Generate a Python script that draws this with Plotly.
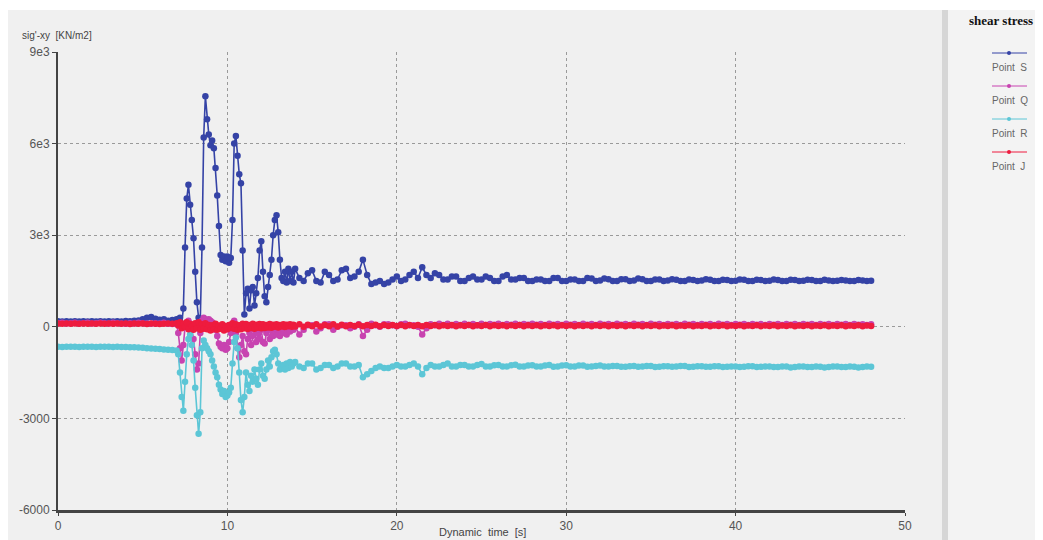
import numpy as np
import plotly.graph_objects as go

# ---- time grid (s): 0.25 s before and after the strong shaking, 0.1 s during it
T = np.round(np.concatenate([
    0.25 * np.arange(28),            # 0.00 .. 6.75 (28)
    7.0 + 0.1 * np.arange(70),       # 7.0 .. 13.9  (70)
    14.0 + 0.25 * np.arange(137),    # 14.00 .. 48.00 (137)
]), 2)

# ---- shear stress sig'-xy [kN/m2]
point_S = [
    180, 175, 180, 170, 185, 175, 180, 170, 180, 175, 185, 170, 180, 175,
    185, 175, 190, 180, 200, 210, 250, 300, 320, 260, 230, 250, 200, 220,
    # 7.0 .. 13.9
    250, 200, 300, 100, 600, 2600, 4200, 4650, 4000, 3500,
    2900, 1800, 800, 300, 250, 2600, 6200, 7550, 6800, 6300,
    5950, 6100, 5850, 5200, 4300, 3300, 2350, 2200, 2300, 2150,
    2300, 2100, 2250, 3500, 6000, 6250, 5600, 5000, 4700, 2500,
    400, 1100, 1250, 600, 1200, 1300, 700, 1100, 1600, 2500,
    2800, 1800, 1000, 800, 1300, 1700, 2200, 3000, 3500, 3650,
    3100, 2200, 1600, 1500, 1800, 1450, 1900, 1500, 1800, 1450,
    # 14.0 .. 48.0
    1900, 1600, 1500, 1750, 1850, 1500, 1450, 1800,
    1700, 1500, 1550, 1850, 1900, 1600, 1650, 1800,
    2200, 1700, 1400, 1450, 1500, 1400, 1450, 1550,
    1650, 1500, 1550, 1700, 1800, 1600, 1950, 1700,
    1600, 1750, 1700, 1550, 1550, 1650, 1650, 1500,
    1500, 1600, 1650, 1550, 1550, 1650, 1600, 1500,
    1500, 1650, 1700, 1550, 1550, 1600, 1600, 1500,
    1500, 1550, 1550, 1500, 1500, 1600, 1600, 1500,
    1500, 1550, 1550, 1500, 1500, 1600, 1580, 1500,
    1520, 1580, 1560, 1500, 1500, 1560, 1560, 1500,
    1520, 1580, 1560, 1500, 1500, 1550, 1550, 1500,
    1520, 1560, 1540, 1500, 1500, 1550, 1530, 1500,
    1520, 1560, 1540, 1500, 1500, 1540, 1530, 1500,
    1510, 1550, 1540, 1500, 1500, 1540, 1530, 1500,
    1510, 1550, 1530, 1500, 1500, 1540, 1530, 1500,
    1510, 1540, 1530, 1500, 1500, 1540, 1520, 1500,
    1510, 1530, 1520, 1500, 1500, 1530, 1520, 1500,
    1510,
]

point_Q = [
    120, 130, 110, 120, 130, 110, 120, 130, 110, 120, 130, 120, 110, 130,
    120, 110, 100, 120, 110, 130, 120, 110, 100, 120, 110, 130, 100, 90,
    # 7.0 .. 13.9
    80, -200, -700, -1100, -600, 0, 150, 200, 100, -100,
    -400, -900, -1400, -1200, -200, 200, 300, 250, 200, 250,
    200, 150, 100, -100, -300, -550, -650, -700, -600, -750,
    -700, -500, -200, 100, 200, -200, -700, -1000, -600, -300,
    -800, -900, -400, -200, -600, -300, -100, -500, -200, -400,
    -100, -500, -550, -200, -100, -400, -100, -300, -50, -250,
    -100, -300, 0, -200, 50, -250, 0, -150, 50, -100,
    # 14.0 .. 48.0
    0, -250, -100, 50, 50, -150, -50, 80,
    80, -100, 0, 50, 50, -50, 0, 80,
    -300, -100, 100, 50, 0, 80, 80, 50,
    20, 80, 100, 50, 50, 0, -250, -50,
    80, 50, 100, 60, 100, 50, 90, 60,
    100, 60, 90, 50, 100, 60, 90, 70,
    100, 60, 90, 70, 100, 60, 90, 70,
    100, 70, 90, 60, 100, 70, 90, 60,
    100, 70, 90, 60, 100, 70, 90, 60,
    100, 70, 90, 60, 100, 70, 90, 60,
    100, 70, 90, 60, 100, 70, 90, 60,
    90, 70, 90, 60, 100, 70, 90, 60,
    90, 70, 90, 60, 100, 70, 90, 60,
    90, 70, 90, 60, 90, 70, 90, 60,
    90, 70, 90, 60, 90, 70, 90, 60,
    90, 70, 90, 60, 90, 70, 90, 60,
    90, 70, 90, 60, 90, 70, 80, 60,
    80,
]

point_R = [
    -650, -660, -650, -655, -650, -660, -650, -655, -650, -660, -650, -655, -650, -660,
    -655, -660, -660, -670, -670, -680, -690, -700, -710, -720, -730, -740, -750, -760,
    # 7.0 .. 13.9
    -780, -900, -1500, -2300, -2750, -1800, -900, -400, -250, -600,
    -1100, -2000, -2900, -3500, -2800, -700, -450, -600, -700, -800,
    -900, -1100, -1300, -1500, -1650, -1900, -2050, -2200, -2100, -2300,
    -2250, -2150, -2000, -1200, -500, -350, -700, -1500, -2400, -2800,
    -2300, -1500, -1900, -2100, -1600, -1800, -1400, -1700, -1900, -1400,
    -1200, -1600, -1700, -1400, -1100, -1300, -1000, -800, -750, -900,
    -1200, -1400, -1300, -1250, -1400, -1200, -1350, -1150, -1300, -1200,
    # 14.0 .. 48.0
    -1150, -1300, -1350, -1200, -1200, -1400, -1350, -1250,
    -1250, -1350, -1300, -1200, -1200, -1300, -1300, -1250,
    -1650, -1550, -1450, -1350, -1300, -1350, -1350, -1300,
    -1250, -1300, -1300, -1250, -1200, -1300, -1550, -1350,
    -1250, -1300, -1300, -1250, -1200, -1300, -1300, -1250,
    -1250, -1300, -1300, -1250, -1220, -1300, -1300, -1260,
    -1250, -1300, -1300, -1260, -1240, -1300, -1300, -1270,
    -1260, -1300, -1300, -1270, -1250, -1310, -1300, -1270,
    -1260, -1300, -1300, -1270, -1270, -1310, -1300, -1280,
    -1270, -1300, -1300, -1280, -1280, -1310, -1310, -1290,
    -1280, -1310, -1300, -1280, -1280, -1320, -1310, -1290,
    -1290, -1310, -1300, -1280, -1280, -1320, -1310, -1290,
    -1290, -1310, -1310, -1290, -1290, -1320, -1310, -1300,
    -1300, -1320, -1310, -1290, -1290, -1320, -1310, -1300,
    -1300, -1320, -1320, -1300, -1300, -1330, -1320, -1300,
    -1300, -1320, -1320, -1300, -1310, -1330, -1320, -1300,
    -1300, -1320, -1320, -1300, -1310, -1330, -1320, -1300,
    -1310,
]

point_J = [
    110, 100, 110, 100, 110, 100, 110, 100, 110, 100, 110, 100, 110, 100,
    110, 100, 110, 90, 110, 100, 110, 90, 110, 100, 90, 100, 110, 100,
    # 7.0 .. 13.9
    120, 40, 150, -50, 100, 0, 150, -80, 100, 20,
    -100, 120, -50, 150, -100, 80, -60, 120, -80, 60,
    -120, 50, -80, 100, -100, 40, -60, 80, -120, 30,
    -80, 60, -40, 120, -60, 80, -100, 50, -80, 100,
    -50, 90, -70, 60, -40, 100, -60, 70, -30, 90,
    -50, 80, -40, 60, -20, 90, -30, 70, 0, 80,
    -20, 60, 10, 80, -10, 70, 20, 80, 0, 70,
    # 14.0 .. 48.0
    10, 80, 0, 70, 20, 80, 10, 60,
    20, 80, 10, 70, 20, 60, 30, 70,
    20, 60, 30, 70, 20, 60, 30, 60,
    30, 60, 20, 60, 30, 60, 20, 60,
    30, 60, 20, 50, 30, 60, 20, 50,
    30, 60, 20, 50, 30, 60, 20, 50,
    30, 50, 20, 50, 30, 60, 20, 50,
    30, 50, 20, 50, 30, 50, 20, 50,
    30, 50, 20, 50, 30, 50, 20, 50,
    30, 50, 20, 50, 30, 50, 20, 50,
    30, 50, 20, 50, 30, 50, 20, 40,
    30, 50, 20, 40, 30, 50, 20, 40,
    30, 50, 20, 40, 30, 50, 20, 40,
    30, 50, 20, 40, 30, 50, 20, 40,
    30, 50, 20, 40, 30, 50, 20, 40,
    30, 50, 20, 40, 30, 50, 20, 40,
    30, 50, 20, 40, 30, 50, 20, 40,
    30,
]

series_names = ["Point\u00a0\u00a0S", "Point\u00a0\u00a0Q", "Point\u00a0\u00a0R", "Point\u00a0\u00a0J"]
series_values = [point_S, point_Q, point_R, point_J]
series_colors = ["#3543a6", "#c843b0", "#5cc6d6", "#ee1b3e"]

y_tickvals = [-6000, -3000, 0, 3000, 6000, 9000]
y_ticktext = ["-6000", "-3000", "0", "3e3", "6e3", "9e3"]
x_tickvals = [0, 10, 20, 30, 40, 50]

# figure sits 8 px in from the page corner (page body margin)
W, H = 1035, 532
L, R, TOP, B = 50, 897, 44, 502   # plot area in figure pixels


def px(xp):
    return (xp - L) / (R - L)


def py(yp):
    return (B - yp) / (B - TOP)


fig = go.Figure()
for name, vals, col in zip(series_names, series_values, series_colors):
    fig.add_trace(go.Scatter(
        x=T, y=vals, mode="lines+markers", name=name,
        line=dict(color=col, width=1.6),
        marker=dict(color=col, size=6.5),
        showlegend=False, hoverinfo="skip",
    ))

shapes = [
    # grey main panel
    dict(type="rect", xref="paper", yref="paper", x0=px(0), x1=px(934), y0=py(2), y1=py(540),
         fillcolor="#f0f0f0", line=dict(width=0), layer="below"),
    # separator bar
    dict(type="rect", xref="paper", yref="paper", x0=px(934), x1=px(940), y0=py(2), y1=py(540),
         fillcolor="#d6d6d6", line=dict(width=0), layer="below"),
    # legend panel
    dict(type="rect", xref="paper", yref="paper", x0=px(940), x1=px(1040), y0=py(2), y1=py(540),
         fillcolor="#f3f3f3", line=dict(width=0), layer="below"),
]
annotations = [
    dict(text="sig'-xy\u00a0\u00a0[KN/m2]", xref="paper", yref="paper", x=px(12), y=py(28),
         xanchor="left", yanchor="middle", showarrow=False,
         font=dict(family="Liberation Sans, Arial", size=10, color="#444")),
    dict(text="Dynamic\u00a0\u00a0time\u00a0\u00a0[s]", xref="paper", yref="paper", x=px(474), y=py(524),
         xanchor="center", yanchor="middle", showarrow=False,
         font=dict(family="Liberation Sans, Arial", size=11, color="#444")),
    dict(text="<b>shear stress</b>", xref="paper", yref="paper", x=px(959), y=py(12),
         xanchor="left", yanchor="middle", showarrow=False,
         font=dict(family="Liberation Serif, Times New Roman", size=13, color="#111")),
]
# legend drawn in the right panel: line with marker above the label
for i, (name, col) in enumerate(zip(series_names, series_colors)):
    yl = 45 + 33 * i
    shapes.append(dict(type="line", xref="paper", yref="paper", x0=px(984), x1=px(1019),
                       y0=py(yl), y1=py(yl), line=dict(color=col, width=1)))
    shapes.append(dict(type="circle", xref="paper", yref="paper", x0=px(999), x1=px(1003),
                       y0=py(yl + 2), y1=py(yl - 2), fillcolor=col, line=dict(color=col, width=0)))
    annotations.append(dict(text=name, xref="paper", yref="paper", x=px(982), y=py(yl + 14),
                            xanchor="left", yanchor="middle", showarrow=False,
                            font=dict(family="Liberation Sans, Arial", size=10, color="#666")))

fig.update_layout(
    width=W, height=H,
    margin=dict(l=L, r=W - R, t=TOP, b=H - B, pad=0, autoexpand=False),
    paper_bgcolor="white", plot_bgcolor="#f0f0f0",
    shapes=shapes, annotations=annotations,
    showlegend=False,
    font=dict(family="Liberation Sans, Arial", color="#555"),
)
fig.update_xaxes(
    range=[0, 50], tickvals=x_tickvals, ticks="outside", ticklen=3, tickcolor="#444",
    showline=True, linecolor="#444", linewidth=3, zeroline=False, automargin=False,
    showgrid=True, gridcolor="#9a9a9a", griddash="dot", gridwidth=1,
    tickfont=dict(size=12, color="#555"),
)
fig.update_yaxes(
    range=[-6000, 9000], tickvals=y_tickvals, ticktext=y_ticktext, ticks="outside", ticklen=4,
    tickcolor="#444", showline=True, linecolor="#444", linewidth=2, zeroline=False, automargin=False,
    showgrid=True, gridcolor="#9a9a9a", griddash="dot", gridwidth=1,
    tickfont=dict(size=12, color="#555"),
)

fig.write_html("out.html")
